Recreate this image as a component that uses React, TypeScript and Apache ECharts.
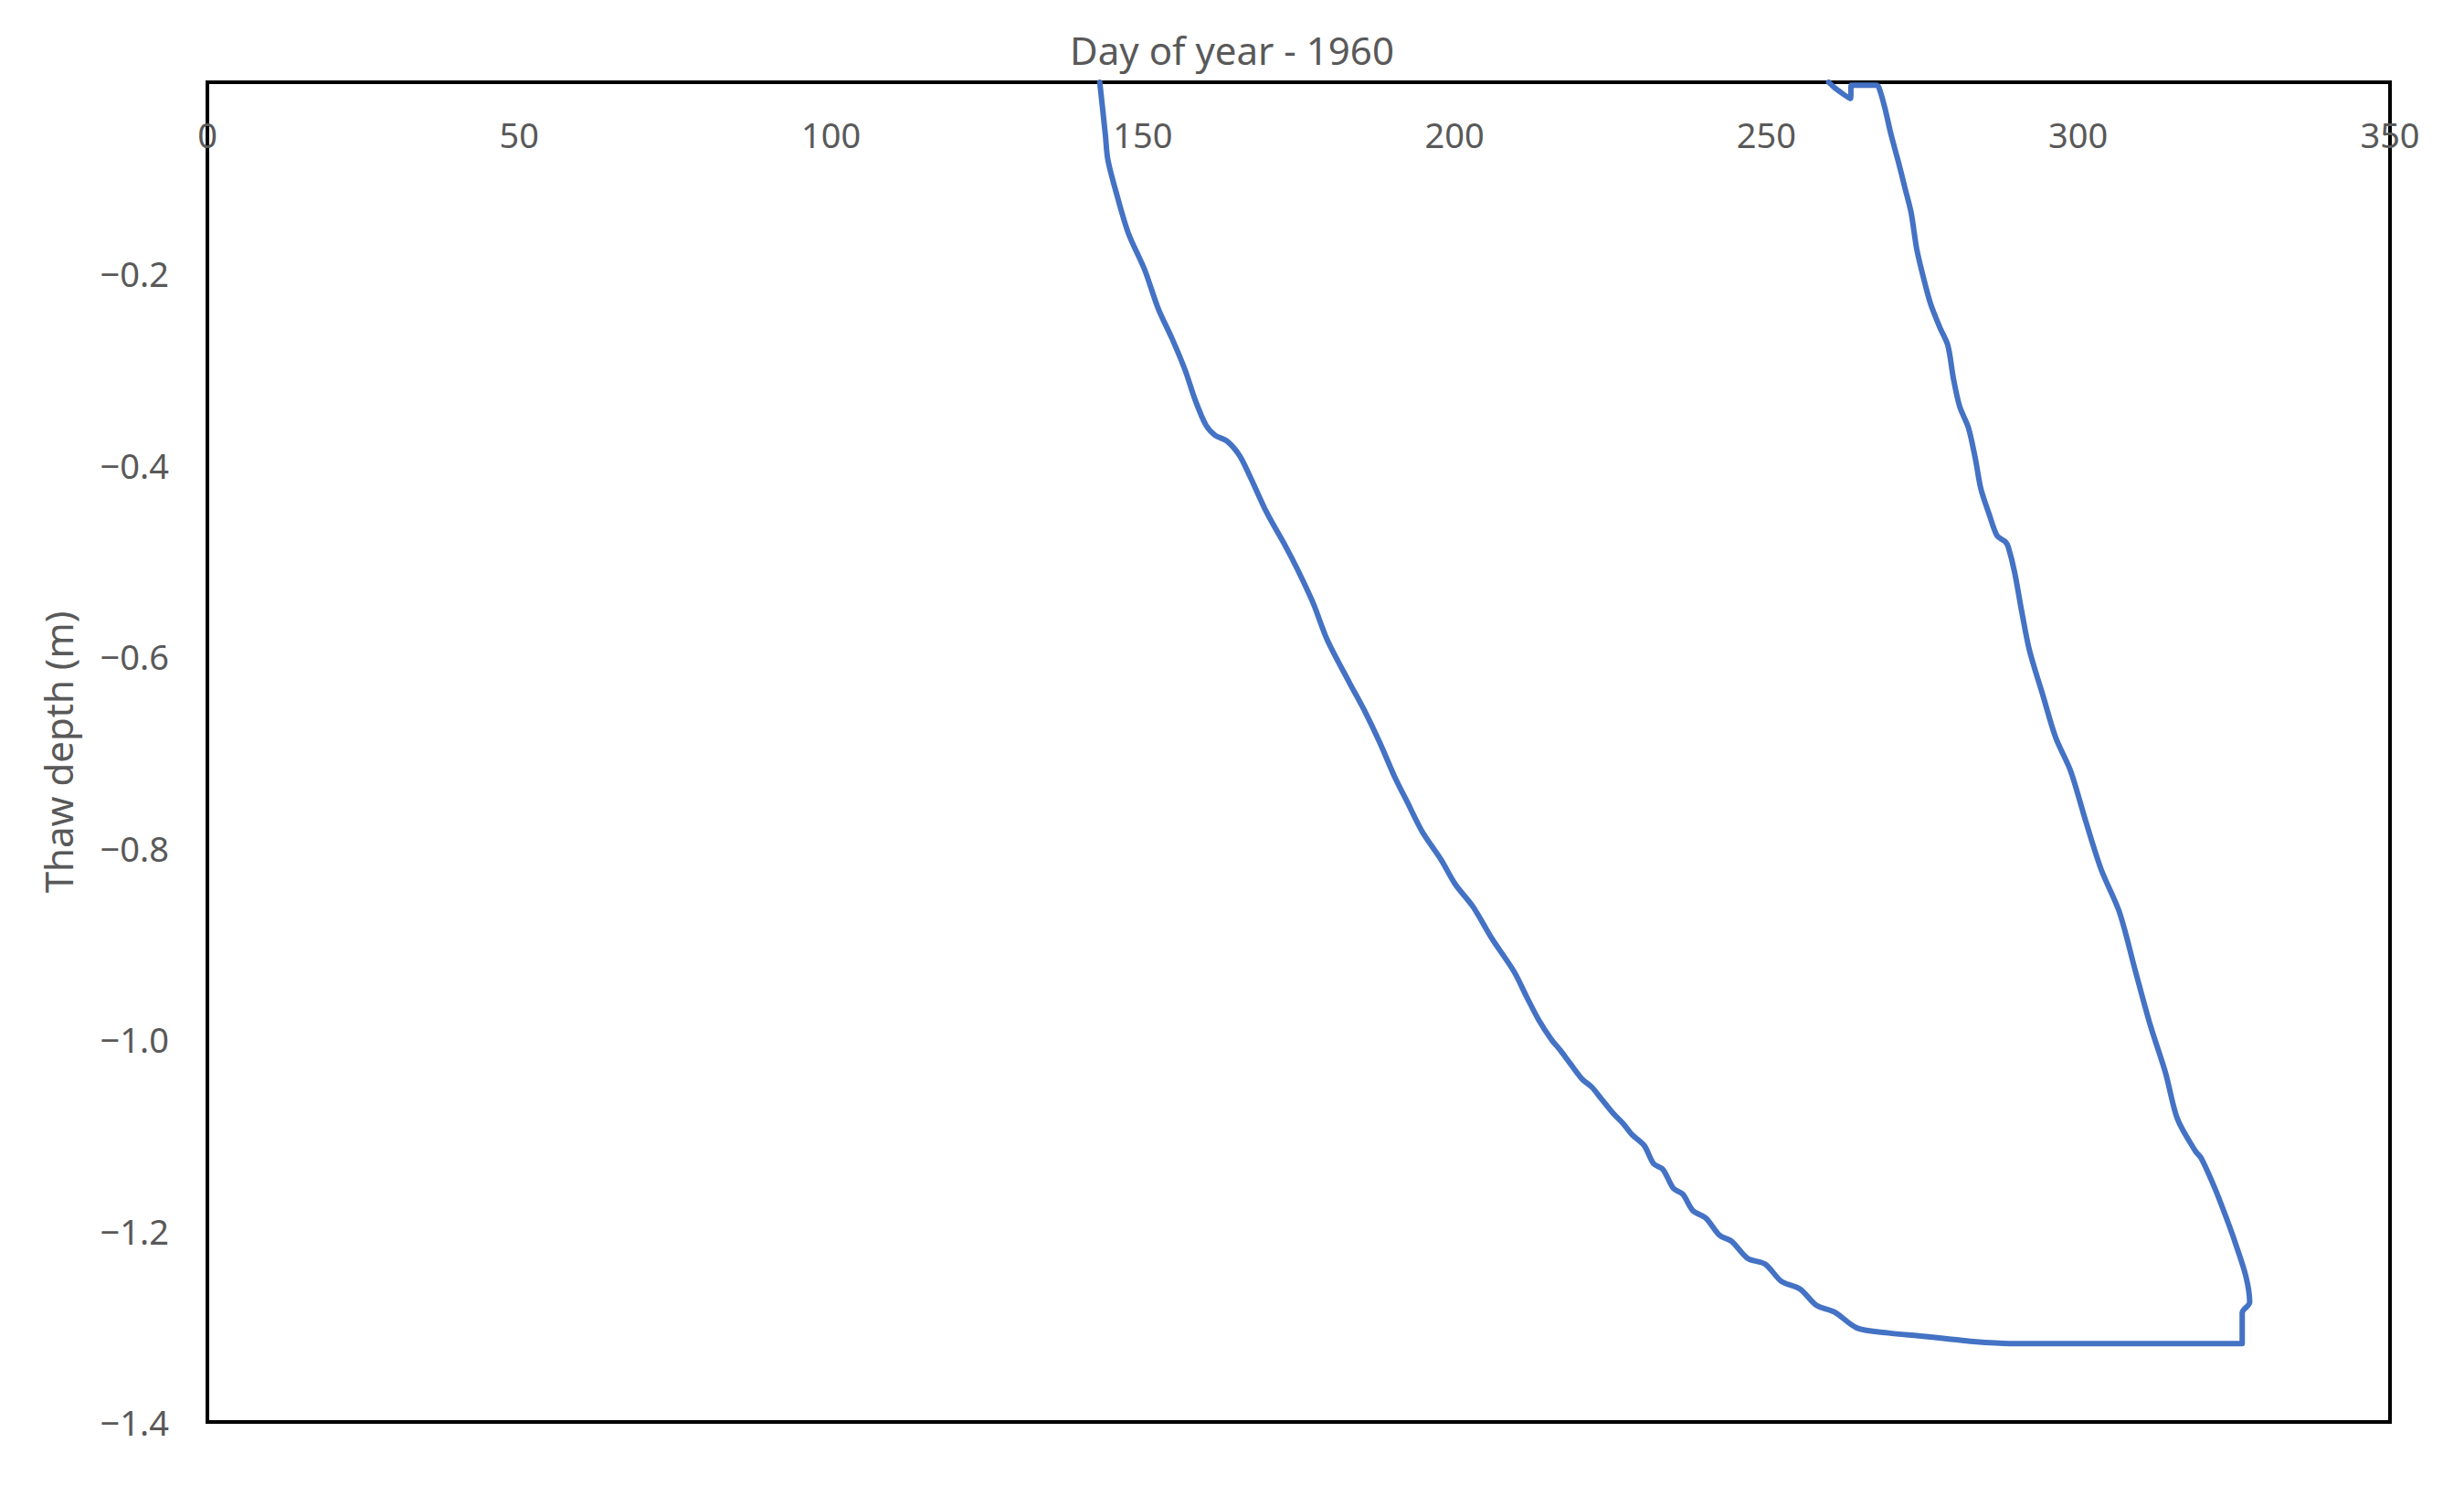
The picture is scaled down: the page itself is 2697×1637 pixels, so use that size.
import React, { useEffect, useRef } from "react";
import * as echarts from "echarts";

const FONT = "'Noto Sans', 'Open Sans', sans-serif";
const TEXT_COLOR = "#595959";

const TITLE = "Day of year - 1960";
const Y_NAME = "Thaw depth (m)";

const X_MIN = 0;
const X_MAX = 350;
const X_STEP = 50;
const Y_MIN = -1.4;
const Y_MAX = 0;
const Y_STEP = 0.2;

// Thaw-front path: day of year
const days = [
  143.1, 144.0, 144.4, 145.9, 147.7, 150.3, 152.5, 154.7, 156.8, 158.4,
  160.1, 161.6, 163.5, 165.5, 167.2, 169.9, 172.9, 174.8, 177.3, 179.6,
  183.1, 185.5, 188.0, 190.4, 192.4, 194.8, 197.8, 200.1, 203.0, 206.0,
  209.5, 211.5, 213.5, 215.5, 217.0, 218.5, 220.5, 222.0, 223.5, 225.5,
  227.0, 228.5, 230.4, 231.9, 233.4, 235.1, 236.6, 238.2, 240.3, 242.5,
  244.4, 247.0, 249.8, 252.4, 255.4, 258.0, 260.9, 264.6, 269.6, 274.4,
  279.0, 283.2, 289.0, 326.3, 326.3, 327.5, 326.9, 325.2, 323.6, 321.8,
  319.7, 318.8, 315.9, 314.0, 311.5, 309.1, 306.6, 303.7, 301.2, 298.8,
  296.4, 294.4, 292.2, 291.0, 289.8, 288.8, 288.3, 287.0, 285.7, 284.4,
  283.5, 282.4, 281.0, 280.0, 279.1, 277.8, 276.3, 275.1, 274.1, 273.2,
  272.2, 271.2, 270.0, 269.0, 268.0, 267.5, 263.6, 263.5, 261.0, 260.0,
];

// Thaw depth (m) at each point of the path
const depths = [
  0.0, -0.055, -0.081, -0.119, -0.158, -0.196, -0.237, -0.268, -0.301, -0.332,
  -0.358, -0.369, -0.375, -0.39, -0.412, -0.45, -0.485, -0.509, -0.544, -0.583,
  -0.627, -0.656, -0.69, -0.726, -0.752, -0.783, -0.812, -0.838, -0.862, -0.895,
  -0.929, -0.955, -0.98, -1.0, -1.012, -1.025, -1.042, -1.05, -1.062, -1.078,
  -1.088, -1.1, -1.111, -1.13, -1.136, -1.156, -1.162, -1.179, -1.187, -1.205,
  -1.211, -1.229, -1.235, -1.253, -1.261, -1.278, -1.285, -1.302, -1.307, -1.31,
  -1.313, -1.316, -1.318, -1.318, -1.286, -1.275, -1.248, -1.213, -1.184, -1.154,
  -1.124, -1.117, -1.083, -1.035, -0.984, -0.927, -0.867, -0.823, -0.772, -0.72,
  -0.685, -0.642, -0.594, -0.555, -0.512, -0.486, -0.48, -0.474, -0.451, -0.425,
  -0.393, -0.361, -0.339, -0.31, -0.275, -0.256, -0.231, -0.202, -0.174, -0.136,
  -0.11, -0.084, -0.055, -0.027, -0.005, -0.003, -0.003, -0.017, -0.006, 0.0,
];

export default function App() {
  const ref = useRef<HTMLDivElement>(null);

  useEffect(() => {
    if (!ref.current) return;
    const chart = echarts.init(ref.current, undefined, { renderer: "svg" });
    const data = days.map((d, i) => [d, depths[i]]);
    chart.setOption({
      animation: false,
      backgroundColor: "#ffffff",
      title: {
        text: TITLE,
        left: "center",
        top: 28,
        textStyle: {
          fontFamily: FONT,
          fontSize: 42,
          fontWeight: "normal",
          color: TEXT_COLOR,
          lineHeight: 42,
        },
      },
      grid: {
        left: 227,
        right: 81,
        top: 90,
        bottom: 81,
        show: true,
        borderColor: "#000000",
        borderWidth: 4,
        backgroundColor: "transparent",
      },
      xAxis: {
        type: "value",
        position: "top",
        min: X_MIN,
        max: X_MAX,
        interval: X_STEP,
        axisLine: { show: true, lineStyle: { color: "#000000", width: 4 } },
        axisTick: { show: false },
        splitLine: { show: false },
        axisLabel: {
          inside: true,
          margin: 38,
          showMinLabel: true,
          showMaxLabel: true,
          fontFamily: FONT,
          fontSize: 38,
          color: TEXT_COLOR,
        },
      },
      yAxis: {
        type: "value",
        min: Y_MIN,
        max: Y_MAX,
        interval: Y_STEP,
        name: Y_NAME,
        nameLocation: "middle",
        nameRotate: 90,
        nameGap: 143,
        nameTextStyle: {
          fontFamily: FONT,
          fontSize: 42,
          color: TEXT_COLOR,
        },
        axisLine: { show: true, lineStyle: { color: "#000000", width: 4 } },
        axisTick: { show: false },
        splitLine: { show: false },
        axisLabel: {
          margin: 42,
          fontFamily: FONT,
          fontSize: 38,
          color: TEXT_COLOR,
          formatter: (v: number) =>
            Math.abs(v) < 1e-9 ? "" : "\u2212" + Math.abs(v).toFixed(1),
        },
      },
      series: [
        {
          type: "line",
          data,
          showSymbol: false,
          symbol: "none",
          clip: true,
          smooth: 0.3,
          lineStyle: { color: "#4472C4", width: 6, join: "round", cap: "round" },
        },
      ],
    });
    return () => chart.dispose();
  }, []);

  return (
    <div
      ref={ref}
      style={{ position: "absolute", left: 0, top: 0, width: 2697, height: 1637 }}
    />
  );
}
